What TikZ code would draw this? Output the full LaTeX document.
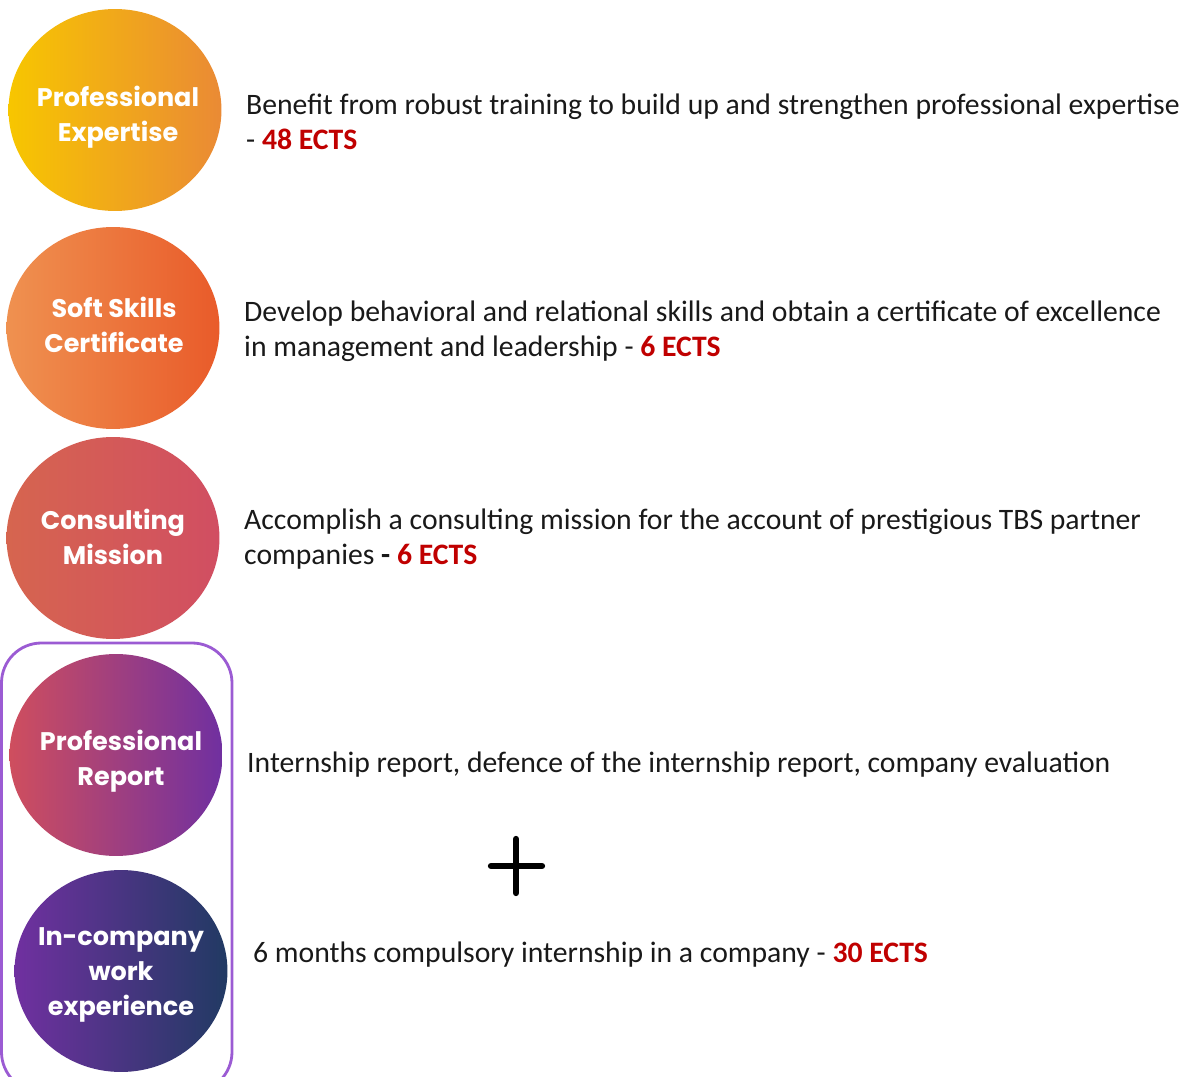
\documentclass[tikz,border=0pt]{standalone}
\usepackage{fontspec}
\setmainfont{Carlito}
\newfontfamily\circfont{Poppins}
\usetikzlibrary{shapes.geometric}

\definecolor{ectsred}{HTML}{C00000}
\definecolor{boxpurple}{HTML}{9B5BD3}
\definecolor{gA}{HTML}{F7C600}
\definecolor{gB}{HTML}{EA8A35}
\definecolor{gC}{HTML}{EF9150}
\definecolor{gD}{HTML}{E95B2A}
\definecolor{gE}{HTML}{D6654F}
\definecolor{gF}{HTML}{D14E62}
\definecolor{gG}{HTML}{CF4E5E}
\definecolor{gH}{HTML}{7030A0}
\definecolor{gI}{HTML}{213A63}

\newcommand{\ects}[1]{\textcolor{ectsred}{\textbf{#1}}}

\begin{document}
\begin{tikzpicture}[x=0.02cm, y=-0.02cm,
		circ/.style={ellipse, inner sep=0pt, minimum width=4.26cm, minimum height=4.04cm},
		circtext/.style={align=center, text=white, inner sep=0pt,
			font=\circfont\bfseries\fontsize{14.5}{19.8}\selectfont},
		desc/.style={anchor=west, align=left, text=black!90,
			font=\fontsize{16.9}{19.8}\selectfont}]
		\useasboundingbox (0,0) rectangle (1191,1077);
		% circles
		\node[circ, left color=gA, right color=gB] (expert) at (115,110) {};
		\node[circ, left color=gC, right color=gD] (soft) at (113,328) {};
		\node[circ, left color=gE, right color=gF] (consult) at (113,538) {};
		\node[circ, left color=gG, right color=gH] (report) at (116,755) {};
		\node[circ, left color=gH, right color=gI] (work) at (121,971) {};
		\node[circtext] (expertLbl) at (118,117) {Professional\\Expertise};
		\node[circtext] (softLbl) at (114,325) {Soft Skills\\Certificate};
		\node[circtext] (consultLbl) at (113,537) {Consulting\\Mission};
		\node[circtext] (reportLbl) at (121,761) {Professional\\Report};
		\node[circtext] (workLbl) at (121,975) {In-company\\work\\experience};
		% frame round the internship
		\begin{scope}
			\clip (0,0) rectangle (1191,1077);
			\draw[boxpurple, line width=1.6pt, rounded corners=0.8cm] (1.5,643) rectangle (232,1092);
		\end{scope}
		% descriptions
		\node[desc] (expertTxt) at (240,122) {Benefit from robust training to build up and strengthen professional expertise\\- \ects{48 ECTS}};
		\node[desc] (softTxt) at (238,331) {Develop behavioral and relational skills and obtain a certificate of excellence\\in management and leadership - \ects{6 ECTS}};
		\node[desc] (consultTxt) at (238,539) {Accomplish a consulting mission for the account of prestigious TBS partner\\companies \textbf{-} \ects{6 ECTS}};
		\node[desc] (reportTxt) at (241,765) {Internship report, defence of the internship report, company evaluation};
		\node[desc] (workTxt) at (247,955) {6 months compulsory internship in a company - \ects{30 ECTS}};
		% plus
		\draw[line width=3.6pt, line cap=round] (491,866) -- (542,866);
		\draw[line width=3.6pt, line cap=round] (516,839) -- (516,893);
\end{tikzpicture}
\end{document}
